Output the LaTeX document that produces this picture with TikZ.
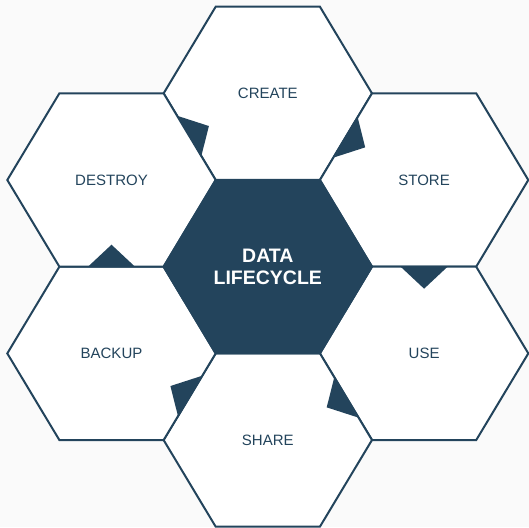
\documentclass[tikz,border=0pt]{standalone}
\usepackage{fontspec}
\setmainfont{Liberation Sans}
\usetikzlibrary{calc}
\definecolor{navy}{HTML}{23445C}
\definecolor{paper}{HTML}{FAFAFA}

\begin{document}
\begin{tikzpicture}
    [x=1pt, y=1pt,
    cell/.style={draw=navy, line width=2pt, fill=white, line join=miter},
    hubcell/.style={draw=navy, line width=2pt, fill=navy},
    stage/.style={text=navy, font=\fontsize{15}{18}\selectfont},
    hubtext/.style={text=white, align=center, font=\bfseries\fontsize{19.5}{21.6}\selectfont},
    pointer/.style={fill=navy}]
    \useasboundingbox (0,0) rectangle (529,527);
    \fill[paper] (0,0) rectangle (529,527);
    \coordinate (hub) at (267.8,260.3);
    % outer ring, clockwise from the top
    \foreach \name/\word/\dx/\dy in {create/CREATE/0/173.3, store/STORE/156.3/86.7,
        use/USE/156.3/-86.7, share/SHARE/0/-173.3, backup/BACKUP/-156.3/-86.7,
        destroy/DESTROY/-156.3/86.7}
    {
        \draw[cell, shift={(hub)}, shift={(\dx,\dy)}] (104.2,0) -- (52.1,86.7) -- (-52.1,86.7)
            -- (-104.2,0) -- (-52.1,-86.7) -- (52.1,-86.7) -- cycle;
        \node[stage] (\name) at ([shift={(\dx,\dy)}]hub) {\word};
    }
    % centre
    \draw[hubcell, shift={(hub)}] (104.2,0) -- (52.1,86.7) -- (-52.1,86.7)
        -- (-104.2,0) -- (-52.1,-86.7) -- (52.1,-86.7) -- cycle;
    \node[hubtext] (lifecycle) at (hub) {DATA\\LIFECYCLE};
    % pointers on the shared edges
    \foreach \a/\b in {destroy/create, create/store, store/use, use/share,
        share/backup, backup/destroy}
    {
        \coordinate (mid) at ($(\a.center)!0.5!(\b.center)$);
        \fill[pointer] ($(mid)!23.5pt!90:(\b.center)$) -- ($(mid)!22pt!(\b.center)$)
            -- ($(mid)!23.5pt!-90:(\b.center)$) -- cycle;
    }
\end{tikzpicture}
\end{document}
